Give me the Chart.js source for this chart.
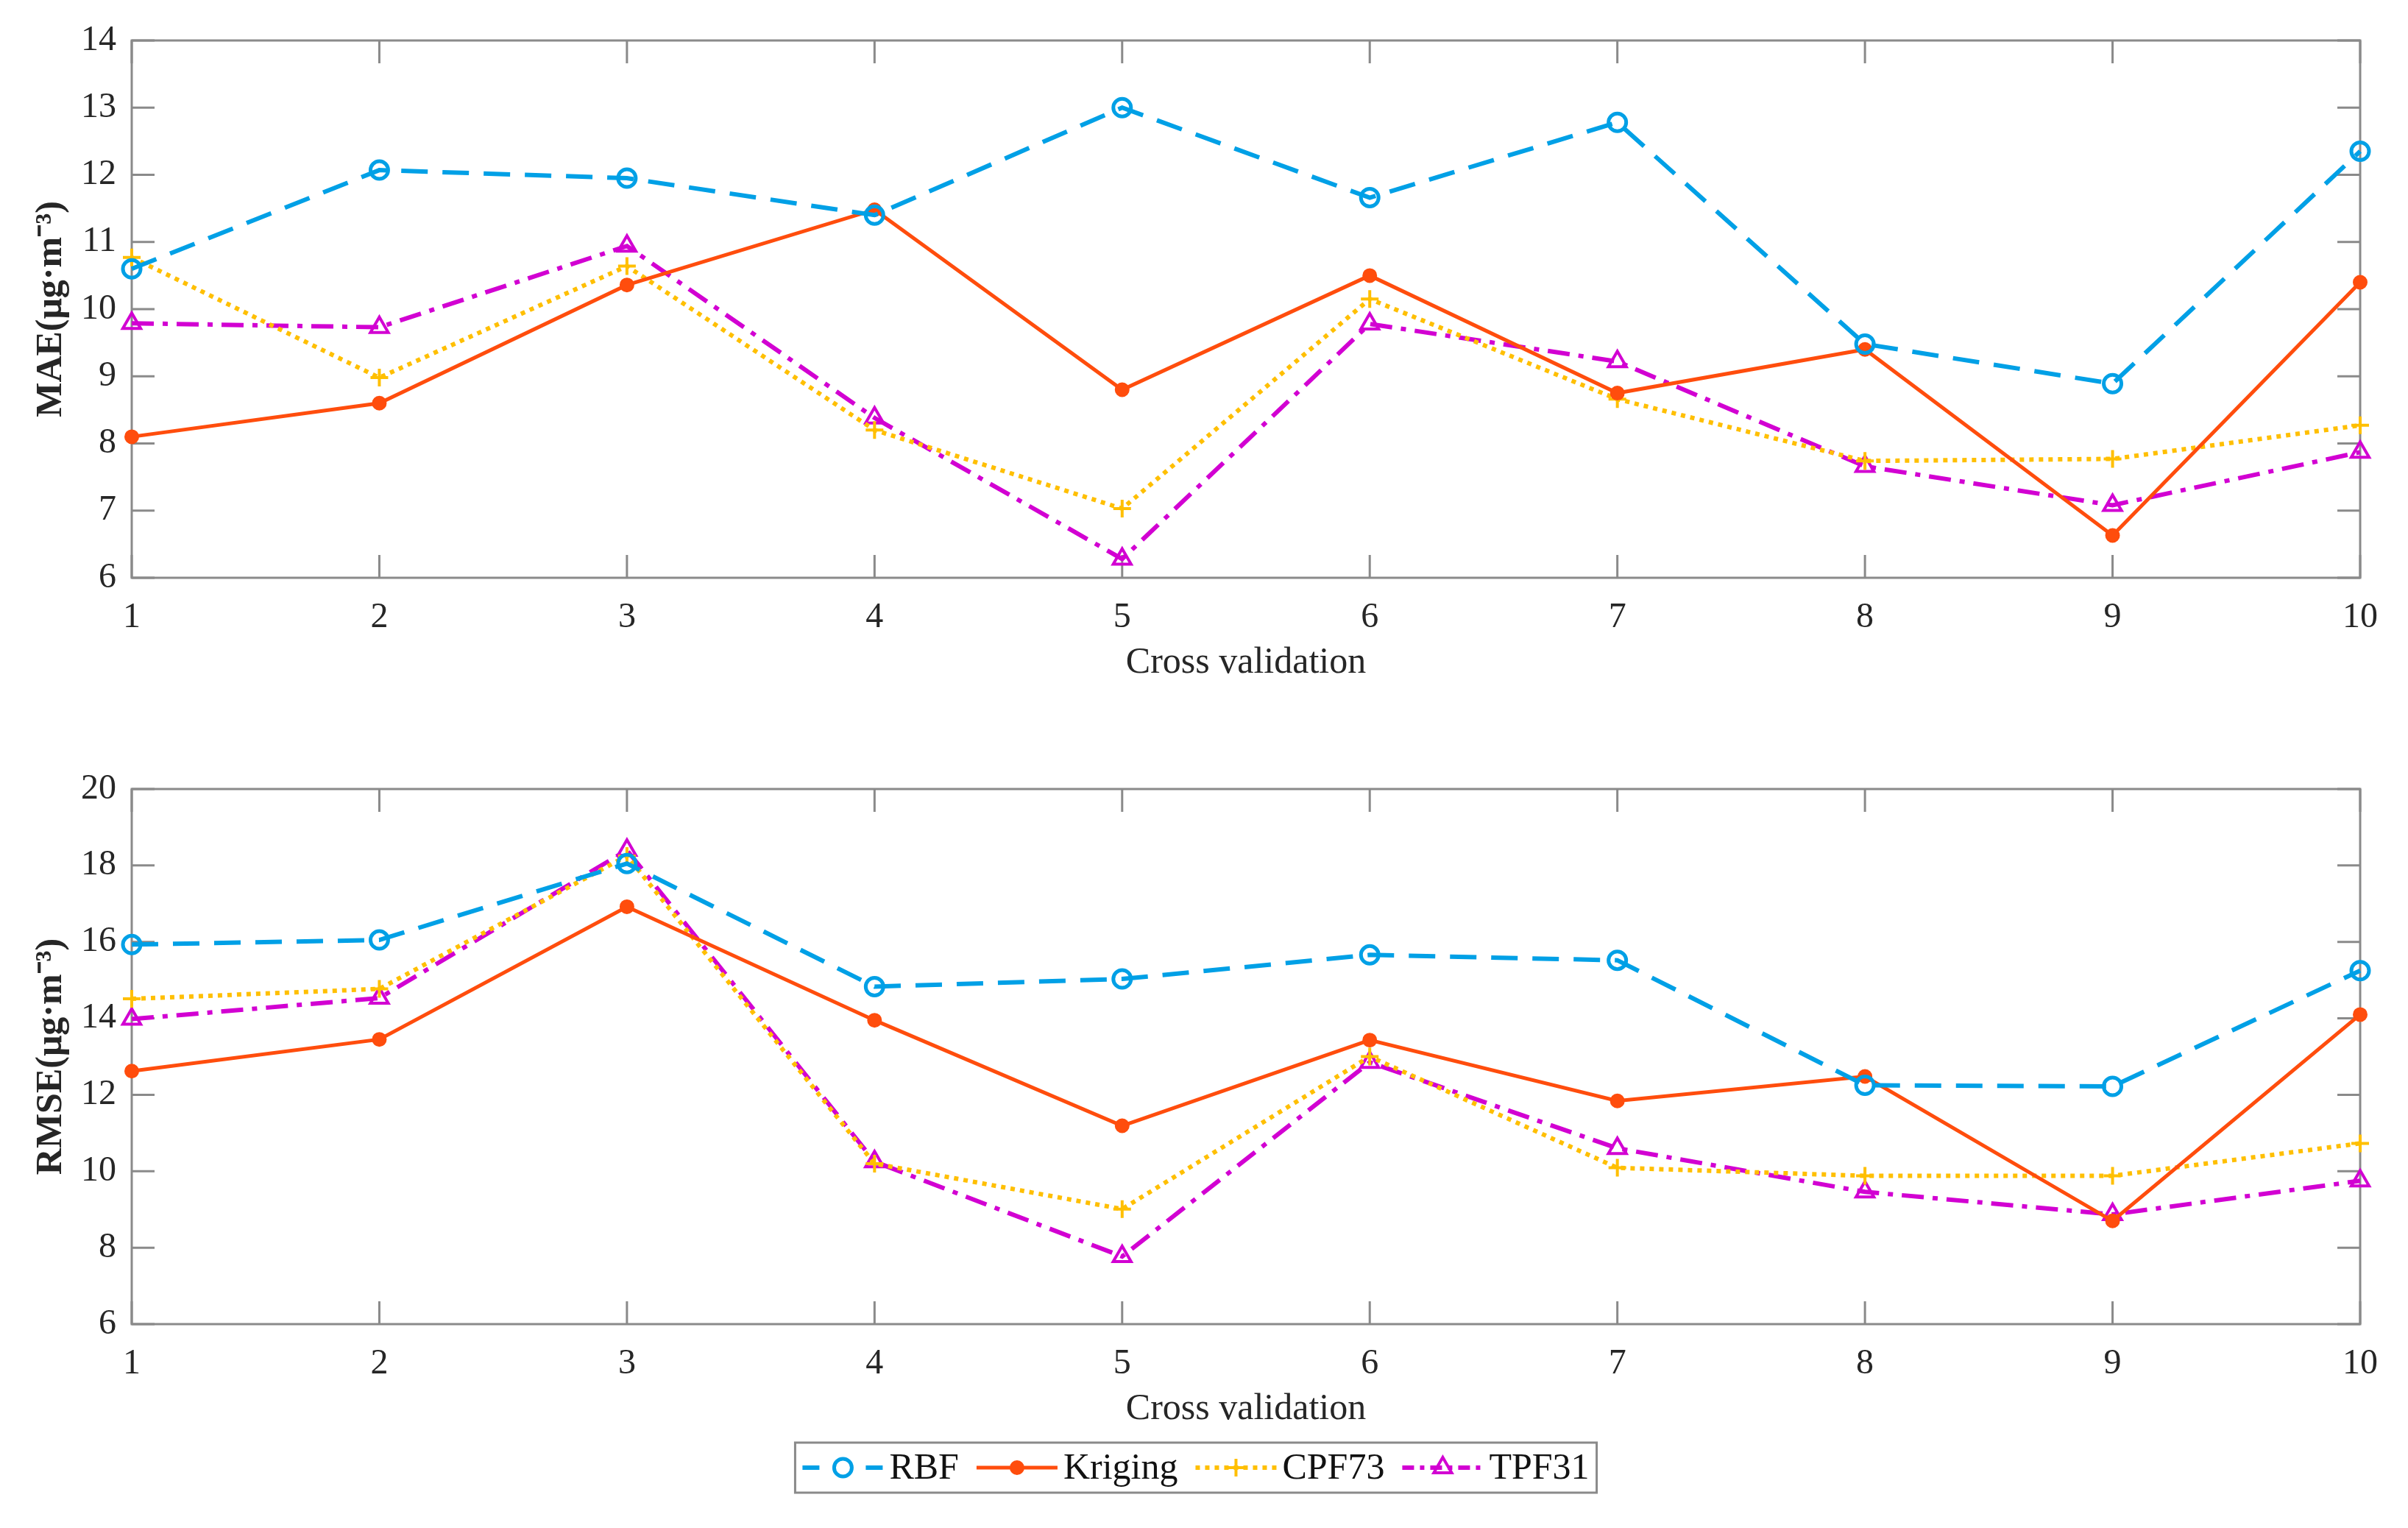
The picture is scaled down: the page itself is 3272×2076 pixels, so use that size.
<!DOCTYPE html>
<html>
<head>
<meta charset="utf-8">
<script src="https://cdn.jsdelivr.net/npm/chart.js@4.4.0/dist/chart.umd.min.js"></script>
<style>
  html, body { margin: 0; padding: 0; background: #fff; }
  #wrap { position: relative; width: 3272px; height: 2076px; }
  canvas { position: absolute; left: 0; }
  #maeChart { top: 0; }
  #rmseChart { top: 1000px; }
</style>
</head>
<body>
<div id="wrap">
  <canvas id="maeChart" width="3272" height="960"></canvas>
  <canvas id="rmseChart" width="3272" height="1076"></canvas>
</div>
<script>
// cross validation folds
const folds = ['1', '2', '3', '4', '5', '6', '7', '8', '9', '10'];

// MAE (µg·m-3)
const maeRBF     = [10.6, 12.07, 11.95, 11.4, 13.0, 11.66, 12.78, 9.48, 8.89, 12.35];
const maeKriging = [8.1, 8.6, 10.36, 11.48, 8.8, 10.5, 8.75, 9.4, 6.63, 10.4];
const maeCPF73   = [10.77, 8.98, 10.64, 8.2, 7.03, 10.15, 8.66, 7.74, 7.77, 8.27];
const maeTPF31   = [9.79, 9.73, 10.94, 8.38, 6.28, 9.78, 9.22, 7.66, 7.08, 7.87];

// RMSE (µg·m-3)
const rmseRBF     = [15.93, 16.05, 18.05, 14.83, 15.03, 15.66, 15.52, 12.25, 12.22, 15.25];
const rmseKriging = [12.62, 13.45, 16.92, 13.95, 11.19, 13.43, 11.84, 12.48, 8.7, 14.1];
const rmseCPF73   = [14.51, 14.77, 18.25, 10.2, 9.01, 13.0, 10.09, 9.88, 9.88, 10.73];
const rmseTPF31   = [13.98, 14.53, 18.4, 10.25, 7.77, 12.85, 10.6, 9.46, 8.87, 9.75];

const serif = "'Liberation Serif', 'Times New Roman', serif";
const textColor = '#262626';
const axisColor = '#8a8a8a';

const styles = {
  RBF:     { color: '#00a0e6', dash: [36, 20], legendDash: [23, 63], point: 'circle', radius: 12, fill: 'rgba(0,0,0,0)', pw: 5 },
  Kriging: { color: '#ff4d0d', dash: [], legendDash: [], point: 'circle', radius: 9, fill: '#ff4d0d', pw: 2 },
  CPF73:   { color: '#ffbf00', dash: [6, 7], legendDash: [6, 7], point: 'cross', radius: 12, fill: '#ffbf00', pw: 4 },
  TPF31:   { color: '#d200d2', dash: [30, 12, 7, 12], legendDash: [16, 8, 6, 8], point: 'triangle', radius: 14, fill: 'rgba(0,0,0,0)', pw: 4 }
};

function makeDatasets(rbf, kriging, cpf, tpf) {
  const vals = { RBF: rbf, Kriging: kriging, CPF73: cpf, TPF31: tpf };
  return Object.keys(vals).map(name => {
    const s = styles[name];
    return {
      label: name,
      data: vals[name],
      borderColor: s.color,
      borderWidth: name === 'Kriging' ? 5 : 6,
      borderDash: s.dash,
      pointStyle: s.point,
      pointRadius: s.radius,
      pointBorderWidth: s.pw,
      pointBorderColor: s.color,
      pointBackgroundColor: s.fill,
      tension: 0,
      clip: false
    };
  });
}

// MATLAB style box with inward ticks on all sides
const boxTicks = {
  id: 'boxTicks',
  beforeDatasetsDraw(chart) {
    const { ctx, chartArea: a, scales: { x, y } } = chart;
    const len = 31;
    ctx.save();
    ctx.strokeStyle = axisColor;
    ctx.lineWidth = 3;
    ctx.strokeRect(a.left, a.top, a.right - a.left, a.bottom - a.top);
    ctx.beginPath();
    x.ticks.forEach((t, i) => {
      const px = x.getPixelForTick(i);
      ctx.moveTo(px, a.bottom); ctx.lineTo(px, a.bottom - len);
      ctx.moveTo(px, a.top); ctx.lineTo(px, a.top + len);
    });
    y.ticks.forEach((t, i) => {
      const py = y.getPixelForTick(i);
      ctx.moveTo(a.left, py); ctx.lineTo(a.left + len, py);
      ctx.moveTo(a.right, py); ctx.lineTo(a.right - len, py);
    });
    ctx.stroke();
    ctx.restore();
  }
};

function drawMarker(ctx, s, x, y) {
  const r = s.radius;
  ctx.beginPath();
  if (s.point === 'circle') {
    ctx.arc(x, y, r, 0, Math.PI * 2);
  } else if (s.point === 'triangle') {
    ctx.moveTo(x, y - r);
    ctx.lineTo(x + r * 0.866, y + r * 0.5);
    ctx.lineTo(x - r * 0.866, y + r * 0.5);
    ctx.closePath();
  } else {
    ctx.moveTo(x - r, y); ctx.lineTo(x + r, y);
    ctx.moveTo(x, y - r); ctx.lineTo(x, y + r);
  }
  ctx.fillStyle = s.fill;
  ctx.fill();
  ctx.lineWidth = s.pw;
  ctx.strokeStyle = s.color;
  ctx.stroke();
}

// boxed legend under the lower panel
const boxLegend = {
  id: 'boxLegend',
  afterDraw(chart) {
    const { ctx, chartArea: a } = chart;
    const sample = 110, gap = 8, spacing = 24, pad = 10;
    ctx.save();
    ctx.font = '50px ' + serif;
    const items = chart.data.datasets.map(ds => ({ ds, w: ctx.measureText(ds.label).width }));
    const total = items.reduce((acc, it) => acc + sample + gap + it.w, 0) + spacing * (items.length - 1) + pad * 2;
    const cx = (a.left + a.right) / 2 - 68;
    const cy = chart.height - 82;
    const left = cx - total / 2;
    ctx.strokeStyle = axisColor;
    ctx.lineWidth = 3;
    ctx.fillStyle = '#fff';
    ctx.fillRect(left, cy - 34, total, 68);
    ctx.strokeRect(left, cy - 34, total, 68);
    let x = left + pad;
    items.forEach(it => {
      const s = styles[it.ds.label];
      ctx.save();
      ctx.strokeStyle = s.color;
      ctx.lineWidth = it.ds.borderWidth;
      ctx.setLineDash(s.legendDash);
      ctx.beginPath();
      ctx.moveTo(x, cy); ctx.lineTo(x + sample, cy);
      ctx.stroke();
      ctx.setLineDash([]);
      drawMarker(ctx, s, x + sample / 2, cy);
      ctx.restore();
      ctx.fillStyle = '#111';
      ctx.textAlign = 'left';
      ctx.textBaseline = 'middle';
      ctx.fillText(it.ds.label, x + sample + gap, cy + 2);
      x += sample + gap + it.w + spacing;
    });
    ctx.restore();
  }
};

function makeChart(id, datasets, yMin, yMax, yStep, yTitle, padTop, padBottom, extra) {
  return new Chart(document.getElementById(id), {
    type: 'line',
    data: { labels: folds, datasets },
    options: {
      responsive: false,
      animation: false,
      devicePixelRatio: 1,
      layout: { padding: { top: padTop, right: 65, left: 0, bottom: padBottom } },
      plugins: { legend: { display: false }, tooltip: { enabled: false } },
      scales: {
        x: {
          type: 'category',
          offset: false,
          grid: { display: false, drawTicks: false },
          border: { display: false },
          ticks: { font: { family: serif, size: 48 }, color: textColor, padding: 26, maxRotation: 0, autoSkip: false },
          title: { display: true, text: 'Cross validation', color: textColor, font: { family: serif, size: 50 }, padding: { top: 0, bottom: 29 } },
          afterFit: s => { s.height = 175; }
        },
        y: {
          min: yMin,
          max: yMax,
          grid: { display: false, drawTicks: false },
          border: { display: false },
          ticks: { stepSize: yStep, font: { family: serif, size: 48 }, color: textColor, padding: 21 },
          title: { display: true, text: yTitle, color: textColor, font: { family: serif, size: 50, weight: 'bold' }, padding: { top: 40, bottom: 0 } },
          afterFit: s => { s.width = 179; }
        }
      }
    },
    plugins: [boxTicks].concat(extra)
  });
}

makeChart('maeChart', makeDatasets(maeRBF, maeKriging, maeCPF73, maeTPF31), 6, 14, 1, 'MAE(μg·m⁻³)', 55, 0, []);
makeChart('rmseChart', makeDatasets(rmseRBF, rmseKriging, rmseCPF73, rmseTPF31), 6, 20, 2, 'RMSE(μg·m⁻³)', 72, 102, [boxLegend]);
</script>
</body>
</html>
